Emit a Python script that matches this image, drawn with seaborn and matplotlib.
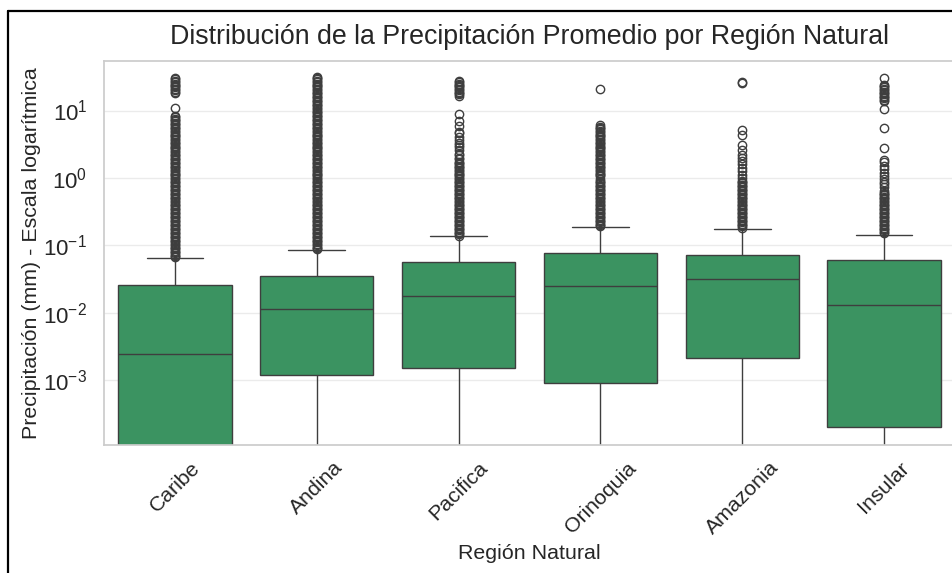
import numpy as np
import pandas as pd
import seaborn as sns
import matplotlib.pyplot as plt
from matplotlib.lines import Line2D

regions = ['Caribe', 'Andina', 'Pacifica', 'Orinoquia', 'Amazonia', 'Insular']

# box stats (mm)
whisker_low = [0, 0, 0, 0, 0, 0]
q1 = [0, 0.00118, 0.00149, 0.00091, 0.00209, 0.000197]
median = [0.0024, 0.0113, 0.0175, 0.0251, 0.0319, 0.013]
q3 = [0.0257, 0.035, 0.0558, 0.076, 0.071, 0.0598]
whisker_high = [0.064, 0.085, 0.136, 0.188, 0.172, 0.142]

# outliers (mm); the solid bands are sampled densely so they read as one column
out_caribe = [0.066, 0.069, 0.072, 0.076, 0.079, 0.083, 0.087, 0.091, 0.095, 0.10, 0.105, 0.11,
              0.115, 0.12, 0.126, 0.132, 0.138, 0.145, 0.152, 0.159, 0.166, 0.174, 0.182, 0.191,
              0.2, 0.21, 0.22, 0.23, 0.24, 0.25, 0.265, 0.275, 0.29, 0.3, 0.315, 0.33, 0.345,
              0.36, 0.38, 0.4, 0.415, 0.435, 0.455, 0.48, 0.5, 0.525, 0.55, 0.575, 0.6, 0.63,
              0.66, 0.69, 0.72, 0.76, 0.79, 0.83, 0.87, 0.91, 0.95, 1.0, 1.05, 1.1, 1.15, 1.2,
              1.26, 1.32, 1.38, 1.45, 1.52, 1.59, 1.66, 1.74, 1.82, 1.91, 2.0, 2.1, 2.2, 2.3,
              2.4, 2.5, 2.65, 2.75, 2.9, 3.0, 3.15, 3.3, 3.45, 3.6, 3.8, 4.0, 4.15, 4.35, 4.55,
              4.8, 5.0, 5.25, 5.5, 5.75, 6.0, 6.3, 6.6, 6.9, 7.2, 7.6, 7.9, 8.3, 10.8,
              18.2, 19.1, 20, 21, 22, 23, 24, 25, 26.5, 27.5, 29, 30]
out_andina = [0.087, 0.091, 0.095, 0.10, 0.105, 0.11, 0.115, 0.12, 0.126, 0.132, 0.138, 0.145,
              0.152, 0.159, 0.166, 0.174, 0.182, 0.191, 0.2, 0.21, 0.22, 0.23, 0.24, 0.25,
              0.265, 0.275, 0.29, 0.3, 0.315, 0.33, 0.345, 0.36, 0.38, 0.4, 0.415, 0.435, 0.455,
              0.48, 0.5, 0.525, 0.55, 0.575, 0.6, 0.63, 0.66, 0.69, 0.72, 0.76, 0.79, 0.83, 0.87,
              0.91, 0.95, 1.0, 1.05, 1.1, 1.15, 1.2, 1.26, 1.32, 1.38, 1.45, 1.52, 1.59, 1.66,
              1.74, 1.82, 1.91, 2.0, 2.1, 2.2, 2.3, 2.4, 2.5, 2.65, 2.75, 2.9, 3.0, 3.15, 3.3,
              3.45, 3.6, 3.8, 4.0, 4.15, 4.35, 4.55, 4.8, 5.0, 5.25, 5.5, 5.75, 6.0, 6.3, 6.6,
              6.9, 7.2, 7.6, 7.9, 8.3, 8.7, 9.1, 9.5, 10, 10.5, 11, 11.5, 12, 12.6, 13.2, 13.8,
              14.5, 15.2, 15.9, 16.6, 17.4, 18.2, 19.1, 20, 21, 22, 23, 24, 25, 26.5, 27.5,
              29, 30, 31]
out_pacifica = [0.138, 0.145, 0.152, 0.159, 0.166, 0.174, 0.182, 0.191, 0.2, 0.21, 0.22, 0.23,
                0.24, 0.25, 0.265, 0.275, 0.29, 0.3, 0.315, 0.33, 0.345, 0.36, 0.38, 0.4, 0.415,
                0.435, 0.455, 0.48, 0.5, 0.525, 0.55, 0.575, 0.6, 0.63, 0.66, 0.69, 0.72, 0.76,
                0.79, 0.83, 0.87, 0.91, 0.95, 1.0, 1.05, 1.1, 1.15, 1.2, 1.26, 1.32, 1.38, 1.45,
                1.52, 1.59, 1.66, 1.74, 1.9, 2.0, 2.2, 2.3, 2.6, 2.9, 3.1, 3.3, 3.6, 4.0, 4.6,
                4.8, 5.8, 6.9, 8.8, 16.6, 17.4, 18.2, 19.1, 20, 21, 22, 23, 24, 25, 26.5, 27.5]
out_orinoquia = [0.191, 0.2, 0.21, 0.22, 0.23, 0.24, 0.25, 0.265, 0.275, 0.29, 0.3, 0.315, 0.33,
                 0.345, 0.36, 0.38, 0.4, 0.415, 0.435, 0.455, 0.48, 0.5, 0.525, 0.55, 0.575, 0.6,
                 0.63, 0.66, 0.69, 0.72, 0.76, 0.79, 0.83, 0.87, 0.91, 0.97, 1.05, 1.1, 1.15,
                 1.2, 1.26, 1.32, 1.38, 1.45, 1.52, 1.59, 1.66, 1.74, 1.82, 1.91, 2.0, 2.1, 2.2,
                 2.3, 2.4, 2.5, 2.65, 2.75, 2.9, 3.0, 3.15, 3.3, 3.45, 3.6, 3.8, 4.0, 4.15, 4.35,
                 4.55, 4.8, 5.0, 5.25, 5.5, 5.75, 6.0, 21]
out_amazonia = [0.174, 0.182, 0.191, 0.2, 0.21, 0.22, 0.23, 0.24, 0.25, 0.265, 0.275, 0.29,
                0.3, 0.315, 0.33, 0.345, 0.36, 0.38, 0.4, 0.415, 0.435, 0.455, 0.48, 0.5, 0.525,
                0.55, 0.575, 0.6, 0.63, 0.66, 0.69, 0.72, 0.76, 0.79, 0.83, 0.87, 0.91, 1.0,
                1.1, 1.25, 1.4, 1.6, 1.8, 2.0, 2.2, 2.6, 3.1, 4.4, 5.2, 25.5, 26.5]
out_insular = [0.152, 0.159, 0.166, 0.174, 0.182, 0.191, 0.2, 0.21, 0.22, 0.23, 0.24, 0.25,
               0.265, 0.275, 0.29, 0.3, 0.315, 0.33, 0.345, 0.36, 0.38, 0.4, 0.415, 0.435,
               0.455, 0.48, 0.5, 0.525, 0.55, 0.575, 0.6, 0.63, 0.72, 0.8, 0.88, 0.97, 1.07,
               1.2, 1.35, 1.5, 1.7, 1.85, 2.76, 5.5, 10.5, 13.8, 14.5, 15.2, 15.9, 16.6, 17.4,
               18.2, 19.1, 20, 21, 22, 23, 24, 30.4]
outliers = [out_caribe, out_andina, out_pacifica, out_orinoquia, out_amazonia, out_insular]

# rebuild a sample per region whose quartiles / whiskers match the stats above
K = 400
rows = []
for i, reg in enumerate(regions):
    vals = ([whisker_low[i]] + [q1[i]] * K + [median[i]] * K + [q3[i]] * K
            + [whisker_high[i]] + outliers[i])
    rows.append(pd.DataFrame({'Region': reg, 'Precipitacion': vals}))
df = pd.concat(rows, ignore_index=True)

sns.set_theme(style='whitegrid', rc={'grid.color': '#ebebeb'})
plt.rcParams['font.family'] = ['Liberation Sans', 'DejaVu Sans']

fig = plt.figure(figsize=(9.52, 5.73), dpi=100)
ax = fig.add_axes([0.1092, 0.2234, 0.894, 0.6707])
sns.boxplot(data=df, x='Region', y='Precipitacion', order=regions, color='#2ca25f',
            fliersize=6, ax=ax)
ax.set_yscale('log')
ax.set_ylim(1.08e-4, 55)
ax.set_title('Distribución de la Precipitación Promedio por Región Natural', fontsize=19.3, pad=12)
ax.set_xlabel('Región Natural', fontsize=15.4)
ax.set_ylabel('Precipitación (mm) - Escala logarítmica', fontsize=15.4, labelpad=2)
ax.tick_params(axis='y', labelsize=16, pad=6)
ax.tick_params(axis='x', labelsize=15.3, labelrotation=45)

# screenshot frame lines (top / left)
fig.add_artist(Line2D([7.5 / 952, 1], [1 - 11 / 573, 1 - 11 / 573], transform=fig.transFigure,
                      color='black', lw=1.6))
fig.add_artist(Line2D([7.5 / 952, 7.5 / 952], [0, 1 - 11 / 573], transform=fig.transFigure,
                      color='black', lw=1.6))

fig.savefig('out.png', dpi=100)
